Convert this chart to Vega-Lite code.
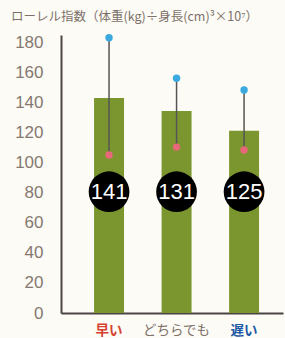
{
  "$schema": "https://vega.github.io/schema/vega-lite/v6.json",
  "width": 222,
  "height": 278,
  "autosize": {"type": "none"},
  "padding": {"left": 61, "top": 35, "right": 2, "bottom": 25},
  "background": "#fcfbf5",
  "title": {
    "text": "ローレル指数（体重(kg)÷身長(cm)³×10⁷）",
    "anchor": "start",
    "frame": "group",
    "orient": "top",
    "dx": -50,
    "offset": 10,
    "fontSize": 12.5,
    "fontWeight": "normal",
    "font": "Noto Sans CJK JP",
    "color": "#7d716a"
  },
  "config": {
    "view": {"stroke": null},
    "axis": {"grid": false, "ticks": false},
    "axisY": {
      "labelOverlap": false,
      "labelBound": false,
      "domainColor": "#4d4545",
      "domainWidth": 2,
      "labelPadding": 18,
      "labelFont": "Liberation Sans",
      "labelFontSize": 17,
      "labelColor": "#857870"
    }
  },
  "data": {
    "values": [
      {"group": "早い", "index": 143.1, "high": 183.2, "low": 105.1, "label": 141},
      {"group": "どちらでも", "index": 134.4, "high": 156.2, "low": 110.4, "label": 131},
      {"group": "遅い", "index": 121.3, "high": 148.4, "low": 108.5, "label": 125}
    ]
  },
  "encoding": {
    "x": {
      "field": "group",
      "type": "nominal",
      "sort": null,
      "scale": {"paddingInner": 0.556, "paddingOuter": 0.422, "align": 0.58},
      "axis": {
        "title": null,
        "labelAngle": 0,
        "domainColor": "#4d4545",
        "domainWidth": 2,
        "labelPadding": 10,
        "labelBaseline": "top",
        "labelFont": "Noto Sans CJK JP",
        "labelFontSize": 13.5,
        "labelColor": {"expr": "datum.value == '早い' ? '#d6402f' : datum.value == '遅い' ? '#1d5aa6' : '#7d716a'"},
        "labelFontWeight": {"expr": "datum.value == 'どちらでも' ? 'normal' : 'bold'"}
      }
    }
  },
  "layer": [
    {
      "mark": {"type": "bar", "color": "#7b962f"},
      "encoding": {
        "y": {
          "field": "index",
          "type": "quantitative",
          "scale": {"domain": [0, 185], "nice": false},
          "axis": {"title": null, "values": [0, 20, 40, 60, 80, 100, 120, 140, 160, 180]}
        }
      }
    },
    {
      "mark": {"type": "rule", "color": "#555555", "strokeWidth": 1.5},
      "encoding": {
        "y": {"field": "high", "type": "quantitative", "axis": {"title": null, "values": [0, 20, 40, 60, 80, 100, 120, 140, 160, 180]}},
        "y2": {"field": "low"}
      }
    },
    {
      "mark": {"type": "circle", "color": "#3aa9e0", "opacity": 1, "size": 55},
      "encoding": {"y": {"field": "high", "type": "quantitative", "axis": {"title": null, "values": [0, 20, 40, 60, 80, 100, 120, 140, 160, 180]}}}
    },
    {
      "mark": {"type": "circle", "color": "#e8687a", "opacity": 1, "size": 55},
      "encoding": {"y": {"field": "low", "type": "quantitative", "axis": {"title": null, "values": [0, 20, 40, 60, 80, 100, 120, 140, 160, 180]}}}
    },
    {
      "mark": {"type": "circle", "color": "#000000", "opacity": 1, "size": 1660},
      "encoding": {"y": {"datum": 80.7, "type": "quantitative", "axis": {"title": null, "values": [0, 20, 40, 60, 80, 100, 120, 140, 160, 180]}}}
    },
    {
      "mark": {"type": "text", "color": "#ffffff", "font": "Liberation Sans", "fontSize": 22, "baseline": "middle", "align": "center"},
      "encoding": {
        "y": {"datum": 80.7, "type": "quantitative", "axis": {"title": null, "values": [0, 20, 40, 60, 80, 100, 120, 140, 160, 180]}},
        "text": {"field": "label", "type": "quantitative"}
      }
    }
  ]
}
